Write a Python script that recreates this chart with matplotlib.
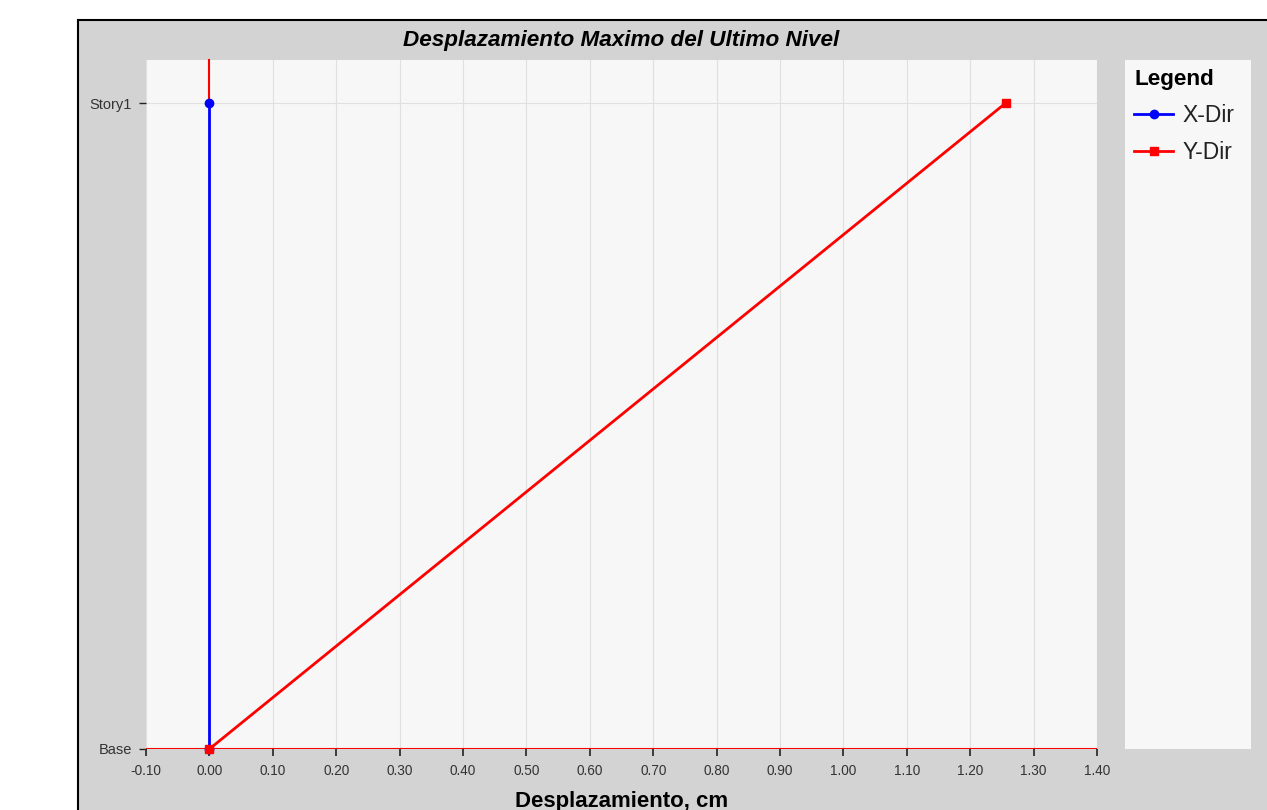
import numpy as np
import matplotlib.pyplot as plt
from matplotlib.patches import Rectangle
from matplotlib.lines import Line2D

plt.rcParams['font.family'] = ['Liberation Sans', 'DejaVu Sans']

# data
levels = ['Base', 'Story1']
level_pos = [0, 1]
x_dir = [0.0, 0.0]
y_dir = [0.0, 1.256]
xticks = np.round(np.arange(-0.10, 1.401, 0.10), 2)

W, H = 1267, 810
fig = plt.figure(figsize=(W / 100, H / 100), dpi=100)
fig.patch.set_facecolor('white')

# gray panel behind everything
panel = Rectangle((78 / W, -0.1), 1.2, (H - 20) / H + 0.1, transform=fig.transFigure,
                  facecolor='#d3d3d3', edgecolor='black', linewidth=1.5, zorder=-10)
fig.add_artist(panel)

ax = fig.add_axes([146 / W, (H - 749) / H, (1097 - 146) / W, (749 - 60) / H])
ax.set_facecolor('#f7f7f7')
ytop = 1.0666
ax.set_xlim(-0.10, 1.40)
ax.set_ylim(0, ytop)

for s in ax.spines.values():
    s.set_visible(False)

ax.set_xticks(xticks)
ax.set_xticklabels(['%.2f' % v for v in xticks], fontsize=9.8, color='#333333')
ax.set_yticks(level_pos)
ax.set_yticklabels(levels, fontsize=10.5, color='#333333')
ax.tick_params(axis='x', length=5, width=1.2, color='#222222', pad=6)
ax.tick_params(axis='y', length=5, width=1.0, color='#222222', pad=5)
ax.grid(True, color='#e0e0e0', linewidth=0.8)
ax.set_axisbelow(True)

# red base line and red stub above Story1 (as in the source program)
ax.axhline(level_pos[0], color='red', linewidth=1.5, zorder=3)
ax.plot([0, 0], [level_pos[1], ytop], color='red', linewidth=1.5, zorder=3, clip_on=False)

ax.plot(x_dir, level_pos, color='blue', linewidth=2, marker='o', markersize=6, zorder=4,
        clip_on=False)
ax.plot(y_dir, level_pos, color='red', linewidth=2, marker='s', markersize=6, zorder=5,
        clip_on=False)

ax.set_title('Desplazamiento Maximo del Ultimo Nivel', fontsize=16.2,
             fontweight='bold', style='italic', pad=10)
ax.set_xlabel('Desplazamiento, cm', fontsize=16, fontweight='bold', labelpad=9)

# legend panel
lax = fig.add_axes([1125 / W, (H - 749) / H, 126 / W, (749 - 60) / H])
lax.set_facecolor('#f7f7f7')
lax.set_xticks([])
lax.set_yticks([])
for s in lax.spines.values():
    s.set_visible(False)
handles = [Line2D([], [], color='blue', marker='o', markersize=6, linewidth=2),
           Line2D([], [], color='red', marker='s', markersize=6, linewidth=2)]
leg = lax.legend(handles, ['X-Dir', 'Y-Dir'], title='Legend', loc='upper left',
                 frameon=False, fontsize=16.5, handlelength=1.7, handletextpad=0.4,
                 borderaxespad=0.0, labelspacing=0.6, alignment='left')
leg.get_title().set_fontweight('bold')
leg.get_title().set_fontsize(16.2)
for t in leg.get_texts():
    t.set_color('#222222')

fig.savefig('out.png', dpi=100)
